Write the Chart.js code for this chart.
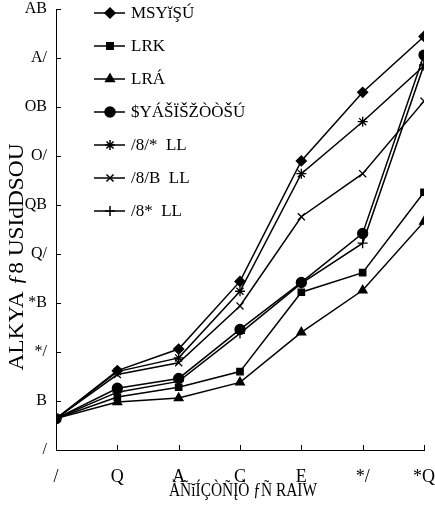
<!DOCTYPE html>
<html>
<head>
<meta charset="utf-8">
<script src="https://cdn.jsdelivr.net/npm/chart.js@4.4.1/dist/chart.umd.min.js"></script>
<style>
  html, body { margin: 0; padding: 0; background: #fff; }
  #wrap { width: 435px; height: 516px; }
</style>
</head>
<body>
<div id="wrap"><canvas id="myChart"></canvas></div>
<script>
// data
const xValues = [0, 2, 4, 6, 8, 10, 12];
const xTickLabels = ['/', 'Q', 'A', 'C', 'E', '*/', '*Q'];
const yTickLabels = ['/', 'B', '*/', '*B', 'Q/', 'QB', 'O/', 'OB', 'A/', 'AB'];

const seriesNames = ['MSYĭŞÚ', 'LRK', 'LRÁ', '$YÁŠÏŠŽÒÒŠÚ', '/8/*  LL', '/8/B  LL', '/8*  LL'];
const seriesStyles = ['rectRot', 'rect', 'triangle', 'circle', 'star', 'crossRot', 'cross'];

const diamondVals  = [3.2, 8.1, 10.3, 17.2, 29.5, 36.5, 42.2];
const squareVals   = [3.2, 5.4, 6.4, 8.0, 16.1, 18.1, 26.3];
const triangleVals = [3.2, 4.9, 5.3, 6.9, 12.0, 16.3, 23.3];
const circleVals   = [3.2, 6.3, 7.3, 12.3, 17.1, 22.1, 40.3];
const starVals     = [3.2, 8.0, 9.4, 16.2, 28.2, 33.5, 39.2];
const xMarkVals    = [3.2, 7.7, 8.9, 14.7, 23.8, 28.2, 35.6];
const plusVals     = [3.2, 5.9, 7.0, 11.9, 17.0, 21.1, 39.3];

const xTitle = 'ÀÑĭÍÇÒÑĮÒ ƒÑ RAIW';
const yTitle = 'ALKYA ƒ8 USIdDSOU';

const allVals = [diamondVals, squareVals, triangleVals, circleVals, starVals, xMarkVals, plusVals];
const FONT = '"Liberation Serif", "DejaVu Serif", serif';

const datasets = allVals.map((vals, i) => ({
  label: seriesNames[i],
  data: vals.map((v, j) => ({ x: xValues[j], y: v })),
  borderColor: '#000',
  backgroundColor: '#000',
  borderWidth: 1.5,
  pointStyle: seriesStyles[i],
  pointRadius: seriesStyles[i] === 'rect' ? 4.5 : 5,
  pointBorderWidth: 1.3,
  pointBorderColor: '#000',
  pointBackgroundColor: '#000',
  fill: false,
  tension: 0
}));

// text squeezed/stretched to the length it has in the picture
function fitText(ctx, text, cx, cy, len, angle) {
  ctx.save();
  ctx.translate(cx, cy);
  ctx.rotate(angle);
  const w = ctx.measureText(text).width;
  ctx.scale(len / w, 1);
  ctx.fillText(text, 0, 0);
  ctx.restore();
}

// inward tick marks, axis titles and the legend drawn by hand
const extras = {
  id: 'extras',
  afterDraw(chart) {
    const ctx = chart.ctx;
    const xs = chart.scales.x, ys = chart.scales.y;
    const area = chart.chartArea;
    ctx.save();
    ctx.strokeStyle = '#000';
    ctx.lineWidth = 1;
    ctx.beginPath();
    for (let v = 5; v <= 45; v += 5) {
      const py = Math.round(ys.getPixelForValue(v)) + 0.5;
      ctx.moveTo(area.left, py);
      ctx.lineTo(area.left + 5, py);
    }
    for (let v = 2; v <= 12; v += 2) {
      const px = Math.round(xs.getPixelForValue(v)) + 0.5;
      ctx.moveTo(px, area.bottom);
      ctx.lineTo(px, area.bottom - 5);
    }
    ctx.stroke();

    ctx.fillStyle = '#000';
    ctx.textAlign = 'center';
    ctx.textBaseline = 'middle';
    ctx.font = '22px ' + FONT;
    fitText(ctx, yTitle, 17, 257, 227, -Math.PI / 2);
    ctx.font = '19px ' + FONT;
    fitText(ctx, xTitle, 243, 491, 148, 0);
    ctx.restore();

    // legend
    ctx.save();
    ctx.font = '17px ' + FONT;
    ctx.textAlign = 'left';
    ctx.textBaseline = 'middle';
    chart.data.datasets.forEach((ds, i) => {
      const y = 13 + i * 33;
      ctx.strokeStyle = '#000';
      ctx.lineWidth = 1.5;
      ctx.beginPath();
      ctx.moveTo(94, y);
      ctx.lineTo(125, y);
      ctx.stroke();
      ctx.fillStyle = '#000';
      Chart.helpers.drawPoint(ctx, {
        pointStyle: ds.pointStyle,
        radius: ds.pointRadius,
        borderWidth: 1.3,
        rotation: 0
      }, 110, y);
      ctx.fillStyle = '#000';
      ctx.fillText(ds.label, 131, y + 1);
    });
    ctx.restore();
  }
};

const ctx = document.getElementById('myChart');

new Chart(ctx, {
  type: 'line',
  data: { datasets: datasets },
  options: {
    responsive: true,
    maintainAspectRatio: false,
    animation: false,
    layout: { padding: { top: 9, right: 11, left: 0, bottom: 0 } },
    plugins: {
      legend: { display: false },
      title: { display: false },
      tooltip: { enabled: false }
    },
    scales: {
      x: {
        type: 'linear',
        min: 0,
        max: 12,
        border: { display: true, color: '#000', width: 1 },
        grid: { display: false, drawTicks: false },
        ticks: {
          stepSize: 2,
          color: '#000',
          padding: 18,
          font: { family: FONT, size: 18, lineHeight: 1 },
          maxRotation: 0,
          callback: (v) => xTickLabels[v / 2]
        },
        afterFit(scale) {
          scale.height = 66;
          scale.paddingLeft = 0;
          scale.paddingRight = 0;
        }
      },
      y: {
        min: 0,
        max: 45,
        border: { display: true, color: '#000', width: 1 },
        grid: { display: false, drawTicks: false },
        ticks: {
          stepSize: 5,
          color: '#000',
          padding: 9,
          font: { family: FONT, size: 16, lineHeight: 1 },
          callback: (v) => yTickLabels[v / 5]
        },
        afterFit(scale) {
          scale.width = 56;
          scale.paddingTop = 0;
          scale.paddingBottom = 0;
        }
      }
    }
  },
  plugins: [extras]
});
</script>
</body>
</html>
